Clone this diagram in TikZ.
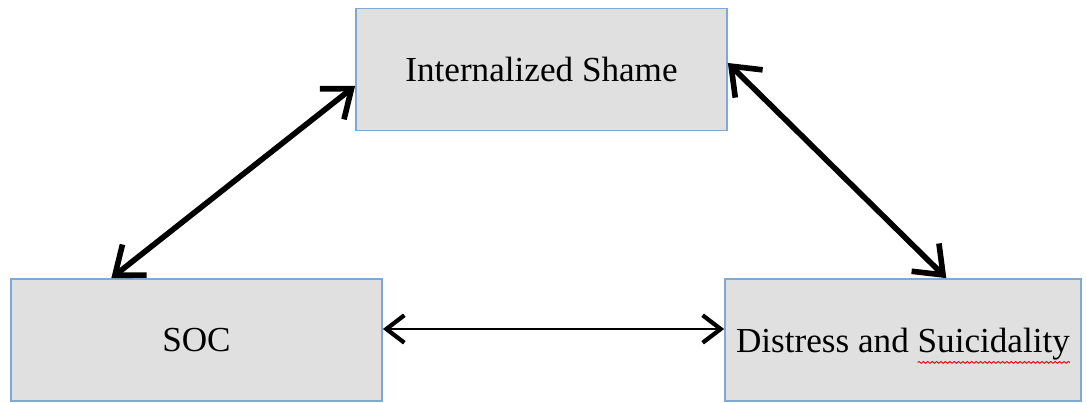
\documentclass[tikz,border=0pt]{standalone}
\usepackage{fontspec}
\setmainfont{Liberation Serif}
\usetikzlibrary{arrows.meta, decorations.pathmorphing}

\definecolor{boxline}{RGB}{128,168,212}
\definecolor{boxfill}{RGB}{224,224,224}

\newcommand{\spellwave}[1]{\tikz[baseline=(word.base)]{\node[inner sep=0pt, outer sep=0pt, minimum width=0pt, minimum height=0pt, text depth=, draw=none, fill=none] (word) {#1};
\draw[overlay, red!85!black, line width=0.5pt, decorate, decoration={snake, amplitude=0.5pt, segment length=2.5pt}] ([yshift=-1.5pt]word.south west) -- ([yshift=-1.5pt]word.south east);}}

\begin{document}
\begin{tikzpicture}[
    varbox/.style={draw=boxline, line width=1pt, fill=boxfill, minimum height=2.44cm, text depth=0pt, font=\fontsize{20}{24}\selectfont},
    bigarrow/.style={line width=3.2pt, {Straight Barb[length=0.5cm, width=0.78cm]}-{Straight Barb[length=0.5cm, width=0.78cm]}},
    smallarrow/.style={line width=1.2pt, {Straight Barb[length=0.36cm, width=0.55cm, line width=2.4pt]}-{Straight Barb[length=0.36cm, width=0.55cm, line width=2.4pt]}}
]
\useasboundingbox (0,0) rectangle (21.72,8.06);

\node[varbox, minimum width=7.42cm] (shame) at (10.83,6.67) {Internalized Shame};
\node[varbox, minimum width=7.42cm] (soc) at (3.93,1.26) {SOC};
\node[varbox, minimum width=7.12cm] (dist) at (18.06,1.26) {Distress and \spellwave{Suicidality}};

\draw[bigarrow] (shame.185) -- (soc.144);
\draw[bigarrow] (shame.2) -- (dist.55);
\draw[smallarrow] ([yshift=0.22cm]soc.east) -- ([yshift=0.22cm]dist.west);

\end{tikzpicture}
\end{document}
